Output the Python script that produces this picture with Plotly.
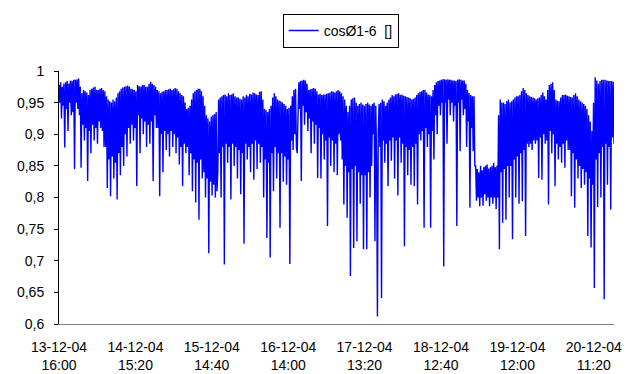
import datetime as dt
import plotly.graph_objects as go

# cos phi readings, 15-minute samples (one list per stretch)
seg1 = [.978,.95,.982,.925, .975,.945,.98,.879, .982,.94,.984,.905, .980,.95,.985,.930,
        .984,.935,.986,.845, .986,.95,.987,.94, .988,.93,.975,.847, .965,.915,.97,.89,
        .968,.91,.966,.826, .962,.905,.97,.87, .972,.915,.974,.89, .975,.91,.97,.885,
        .97,.92,.972,.91, .973,.905,.97,.88, .968,.88,.96,.815, .955,.86,.952,.802,
        .95,.865,.955,.83, .952,.855,.958,.797, .965,.87,.968,.835, .972,.88,.974,.85,
        .975,.9,.976,.865, .977,.91,.975,.885, .972,.915,.971,.89, .97,.91,.968,.818]
seg2 = [.978,.93,.976,.87, .975,.925,.978,.90, .978,.92,.975,.88, .975,.915,.98,.885,
        .983,.92,.98,.826, .978,.93,.975,.91, .97,.91,.968,.802, .965,.90,.967,.84,
        .968,.905,.97,.875, .97,.90,.971,.865, .972,.905,.97,.88, .971,.90,.973,.87,
        .972,.895,.968,.852, .965,.88,.962,.818, .96,.885,.95,.87, .94,.88,.942,.835,
        .945,.87,.955,.81, .965,.86,.968,.792, .97,.855,.972,.765, .972,.86,.968,.83,
        .96,.84,.945,.80, .93,.83,.925,.712, .92,.825,.928,.803, .93,.82,.932,.80, .935]
seg3 = [.81,.84, .955,.87,.958,.80, .96,.88,.962,.694, .963,.885,.96,.855, .965,.88,.962,.797,
        .963,.885,.965,.85, .96,.88,.958,.83, .958,.875,.956,.805, .955,.87,.96,.727,
        .958,.885,.962,.86, .96,.88,.964,.84, .963,.885,.966,.828, .965,.89,.963,.845,
        .962,.885,.967,.855, .968,.88,.955,.80, .94,.86,.938,.736, .935,.855,.94,.705,
        .945,.87,.958,.81, .965,.88,.96,.83, .955,.87,.953,.752, .952,.87,.95,.825,
        .948,.865,.945,.82, .94,.86,.942,.695, .945,.89,.96,.875, .97,.90,.972,.88]
seg4 = [.87,.93, .982,.94,.984,.826, .985,.945,.986,.915, .985,.935,.98,.905, .97,.925,.971,.87,
        .972,.92,.973,.885, .972,.915,.968,.831, .963,.91,.964,.83, .962,.90,.963,.86,
        .963,.89,.964,.755, .965,.895,.966,.85, .968,.89,.967,.84, .966,.885,.968,.835,
        .97,.90,.968,.89, .965,.86,.96,.789, .955,.85,.945,.768, .935,.84,.945,.676,
        .955,.845,.957,.72, .958,.85,.95,.731, .945,.84,.948,.79, .95,.835,.947,.718,
        .945,.835,.948,.718, .95,.84,.947,.80, .945,.85,.948,.90, .95,.731,.945,.86]
seg5 = [.612,.90, .948,.88,.95,.641, .955,.89,.952,.855, .945,.885,.95,.818, .955,.89,.958,.858,
        .962,.895,.96,.83, .963,.89,.964,.803, .965,.895,.962,.855, .963,.885,.961,.723,
        .96,.88,.959,.835, .958,.875,.957,.82, .955,.88,.956,.818, .958,.885,.962,.789,
        .965,.90,.967,.89, .968,.905,.97,.752, .97,.91,.966,.88, .963,.90,.962,.752,
        .96,.905,.97,.86, .978,.93,.982,.90, .984,.945,.985,.93, .986,.95,.987,.691,
        .987,.95,.986,.885, .987,.955,.986,.93, .986,.95,.985,.92, .985,.945,.984,.755]
seg6 = [.986,.95,.987,.873, .986,.955,.985,.93, .985,.94,.98,.88, .97,.92,.965,.784,
        .962,.91,.96,.873, .96,.85,.85,.795, .845,.80,.84,.786, .85,.80,.843,.787,
        .848,.805,.85,.795, .852,.80,.846,.786, .848,.80,.85,.79, .855,.80,.848,.782,
        .85,.80,.93,.718, .955,.84,.95,.76, .95,.845,.948,.765, .952,.85,.955,.80,
        .95,.85,.952,.734, .955,.86,.958,.80, .96,.865,.96,.79, .962,.87,.968,.794,
        .973,.875,.97,.739, .965,.885,.962,.88, .96,.885,.959,.875, .958,.89,.957,.885]
seg7 = [.955,.89,.957,.831, .958,.895,.962,.828, .966,.90,.96,.885, .955,.89,.97,.789,
        .978,.905,.98,.87, .982,.90,.97,.818, .955,.885,.953,.86, .952,.88,.958,.855,
        .962,.885,.962,.847, .963,.89,.961,.875, .96,.875,.959,.802, .958,.87,.962,.784,
        .965,.86,.96,.83, .955,.85,.952,.815, .95,.845,.948,.82, .945,.84,.94,.739,
        .93,.83,.92,.721, .905,.82,.95,.657, .99,.86,.985,.785, .98,.87,.984,.80,
        .986,.88,.986,.639, .986,.885,.985,.82, .984,.88,.984,.781, .984,.895,.983,.885]

cos_phi = seg1 + seg2 + seg3 + seg4 + seg5 + seg6 + seg7
start = dt.datetime(2004, 12, 13, 16, 0)
times = [start + dt.timedelta(minutes=15 * i) for i in range(len(cos_phi))]

tick_times = ["2004-12-13 16:00", "2004-12-14 15:20", "2004-12-15 14:40",
              "2004-12-16 14:00", "2004-12-17 13:20", "2004-12-18 12:40",
              "2004-12-19 12:00", "2004-12-20 11:20"]
tick_text = ["13-12-04<br>16:00", "14-12-04<br>15:20", "15-12-04<br>14:40",
             "16-12-04<br>14:00", "17-12-04<br>13:20", "18-12-04<br>12:40",
             "19-12-04<br>12:00", "20-12-04<br>11:20"]
y_ticks = [0.6, 0.65, 0.7, 0.75, 0.8, 0.85, 0.9, 0.95, 1.0]
y_text = ["0,6", "0,65", "0,7", "0,75", "0,8", "0,85", "0,9", "0,95", "1"]

fig = go.Figure()
fig.add_trace(go.Scatter(x=times, y=cos_phi, mode="lines",
                         line=dict(color="#0000FF", width=1.4),
                         name="cosØ1-6 \u00a0[]"))

FONT = "Liberation Sans, Arial, sans-serif"
fig.update_layout(
    width=644, height=374,
    paper_bgcolor="white", plot_bgcolor="white",
    margin=dict(l=59, r=30, t=71, b=50, autoexpand=False),
    font=dict(family=FONT, size=14, color="black"),
    showlegend=True,
    legend=dict(xref="container", yref="container", x=0.529, y=0.963,
                xanchor="center", yanchor="top",
                bordercolor="black", borderwidth=1,
                font=dict(family=FONT, size=14, color="black"),
                itemwidth=30),
)
fig.update_xaxes(
    range=[times[0], times[-1]],
    tickvals=tick_times, ticktext=tick_text,
    showgrid=False, zeroline=False,
    showline=True, linecolor="#808080", linewidth=1,
    ticks="", tickangle=0, ticklabelstandoff=10,
)
fig.update_yaxes(
    range=[0.6, 1.0],
    tickvals=y_ticks, ticktext=y_text,
    showgrid=False, zeroline=False,
    showline=True, linecolor="black", linewidth=1,
    ticks="outside", ticklen=4, tickcolor="black", ticklabelstandoff=7,
)

fig.write_html("out.html", config={"displayModeBar": False},
               post_script="document.body.style.margin='0px';")
